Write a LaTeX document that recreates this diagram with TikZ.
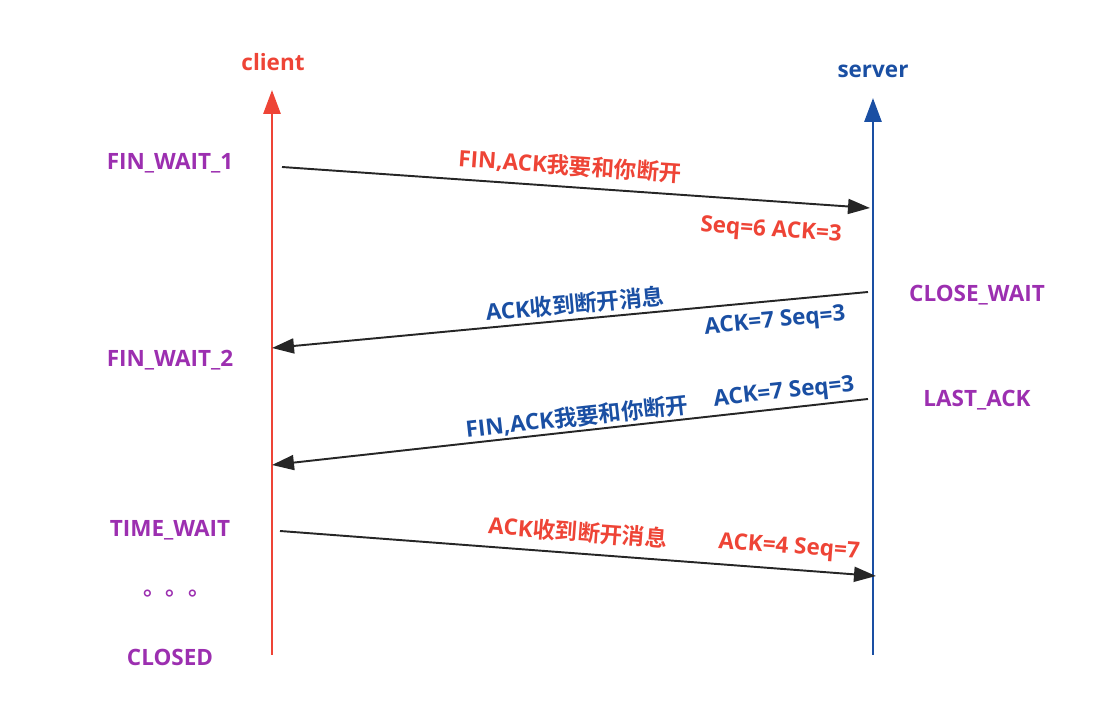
\documentclass[tikz,border=0pt]{standalone}
\usepackage{fontspec}
\setmainfont{Open Sans}
\newfontfamily\cjk{Noto Sans CJK SC}[BoldFont={Noto Sans CJK SC Bold}]
\usetikzlibrary{arrows.meta}
\definecolor{clientred}{HTML}{EE4436}
\definecolor{serverblue}{HTML}{1A4FA3}
\definecolor{stateviolet}{HTML}{9C2FB0}
\definecolor{msgblack}{HTML}{262626}
\tikzset{
  lifeline/.style={line width=1.7pt,-{Triangle[length=0.48cm,width=0.34cm]}},
  msg/.style={msgblack,line width=1.1pt,-{Triangle[length=0.44cm,width=0.3cm]}},
  state/.style={text=stateviolet,font=\fontsize{12.8}{15}\selectfont\bfseries},
  lbl/.style={font=\fontsize{12.8}{15}\selectfont\bfseries,inner sep=0pt}
}
\begin{document}
\begin{tikzpicture}[x=0.02cm,y=-0.02cm]
    \useasboundingbox (0,0) rectangle (1107,712);
    % lifelines
    \coordinate (cbot) at (272,655);
    \coordinate (ctop) at (272,90);
    \coordinate (sbot) at (873,655);
    \coordinate (stop) at (873,98);
    \draw [lifeline,clientred] (cbot) -- (ctop);
    \draw [lifeline,serverblue] (sbot) -- (stop);
    \node [lbl,text=clientred] (client) at (273,62) {client};
    \node [lbl,text=serverblue] (server) at (873,71) {server};
    % states
    \node [state] (fw1) at (170,163) {FIN\_WAIT\_1};
    \node [state] (fw2) at (170,360) {FIN\_WAIT\_2};
    \node [state] (tw) at (170,530) {TIME\_WAIT};
    \node [state] (dots) at (177,594) {{\cjk 。。。}};
    \node [state] (closed) at (170,657) {CLOSED};
    \node [state] (cw) at (977,295) {CLOSE\_WAIT};
    \node [state] (la) at (977,400) {LAST\_ACK};
    % messages
    \coordinate (m1a) at (282,167);
    \coordinate (m1b) at (870,208);
    \coordinate (m2a) at (868,292);
    \coordinate (m2b) at (272,348);
    \coordinate (m3a) at (868,399);
    \coordinate (m3b) at (272,465);
    \coordinate (m4a) at (280,531);
    \coordinate (m4b) at (876,576);
    \draw [msg] (m1a) -- (m1b);
    \draw [msg] (m2a) -- (m2b);
    \draw [msg] (m3a) -- (m3b);
    \draw [msg] (m4a) -- (m4b);
    \node [lbl,text=clientred,rotate=-4] (fin1) at (570,166) {FIN,ACK{\cjk 我要和你断开}};
    \node [lbl,text=clientred,rotate=-4] (seq1) at (771,231) {Seq=6 ACK=3};
    \node [lbl,text=serverblue,rotate=5.4] (ack2) at (575,304) {ACK{\cjk 收到断开消息}};
    \node [lbl,text=serverblue,rotate=5.4] (seq2) at (775,322) {ACK=7 Seq=3};
    \node [lbl,text=serverblue,rotate=6.3] (fin3) at (577,417) {FIN,ACK{\cjk 我要和你断开}};
    \node [lbl,text=serverblue,rotate=6.3] (seq3) at (784,393) {ACK=7 Seq=3};
    \node [lbl,text=clientred,rotate=-4.3] (ack4) at (578,532) {ACK{\cjk 收到断开消息}};
    \node [lbl,text=clientred,rotate=-4.3] (seq4) at (789,548) {ACK=4 Seq=7};
\end{tikzpicture}
\end{document}
